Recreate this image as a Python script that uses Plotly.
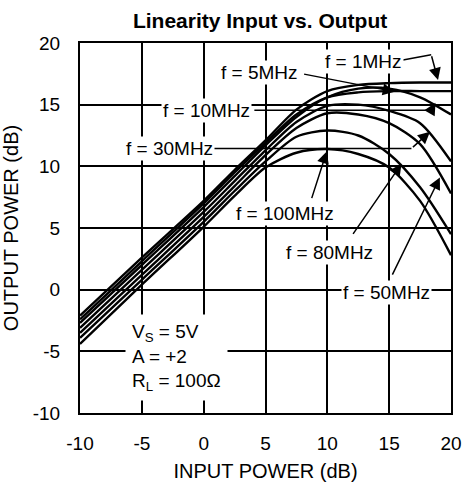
import plotly.graph_objects as go

# input power (dB) sample points
input_db = [-10, -5, 0, 2.5, 5, 7.5, 10, 12.5, 15, 17.5, 20]

# output power (dB) for each frequency
out_1mhz = [-2.1, 2.6, 7.2, 9.7, 12.1, 14.6, 16.1, 16.6, 16.75, 16.8, 16.8]
out_5mhz = [-2.4, 2.3, 7.0, 9.5, 11.9, 14.2, 15.6, 16.0, 16.1, 16.1, 16.1]
out_10mhz = [-2.7, 2.0, 6.7, 9.2, 11.7, 14.0, 15.6, 16.3, 16.3, 15.6, 14.2]
out_30mhz = [-3.1, 1.6, 6.3, 8.8, 11.3, 13.6, 14.9, 15.0, 14.5, 13.5, 10.4]
out_50mhz = [-3.5, 1.2, 5.9, 8.4, 10.9, 13.1, 14.3, 14.2, 13.5, 11.8, 7.8]
out_80mhz = [-3.9, 0.8, 5.5, 8.0, 10.4, 12.4, 12.9, 12.5, 11.0, 8.3, 4.5]
out_100mhz = [-4.4, 0.4, 5.1, 7.6, 9.9, 11.1, 11.4, 11.0, 9.9, 7.2, 2.8]

series = [out_1mhz, out_5mhz, out_10mhz, out_30mhz, out_50mhz, out_80mhz, out_100mhz]
names = ['1MHz', '5MHz', '10MHz', '30MHz', '50MHz', '80MHz', '100MHz']

tick_vals = [-10, -5, 0, 5, 10, 15, 20]
tick_text = [str(v) for v in tick_vals]

FONT = 'Arial, Liberation Sans, sans-serif'

fig = go.Figure()
for name, vals in zip(names, series):
    fig.add_trace(go.Scatter(
        x=input_db, y=vals, mode='lines', name=name,
        line=dict(color='black', width=2.4, shape='spline', smoothing=0.8),
        showlegend=False,
    ))

# frequency labels: text, text centre, arrow tail, arrow tip, optional leader line
labels = [
    ('f = 1MHz', 12.9, 18.5, (18.4, 19.05), (18.95, 17.0), [(16.0, 18.6), (18.4, 19.05)]),
    ('f = 5MHz', 4.5, 17.6, (8.0, 17.5), (15.45, 16.05), None),
    ('f = 10MHz', 0.2, 14.55, (18.4, 14.55), (18.75, 15.15), [(4.1, 14.55), (18.4, 14.55)]),
    ('f = 30MHz', -2.8, 11.45, (16.8, 11.45), (18.3, 12.8), [(0.8, 11.45), (16.8, 11.45)]),
    ('f = 100MHz', 6.6, 6.2, (8.7, 7.3), (9.95, 11.2), None),
    ('f = 80MHz', 10.2, 3.0, (12.0, 4.4), (16.0, 10.2), None),
    ('f = 50MHz', 14.8, -0.25, (15.2, 1.1), (19.1, 9.1), None),
]

annotations = []
shapes = []
for text, tx, ty, tail, tip, leader in labels:
    if leader:
        shapes.append(dict(type='line', xref='x', yref='y',
                           x0=leader[0][0], y0=leader[0][1],
                           x1=leader[1][0], y1=leader[1][1],
                           line=dict(color='black', width=1.5)))
    annotations.append(dict(
        x=tip[0], y=tip[1], ax=tail[0], ay=tail[1],
        xref='x', yref='y', axref='x', ayref='y',
        text='', showarrow=True, arrowhead=2, arrowsize=1.6,
        arrowwidth=1.5, arrowcolor='black',
    ))
    annotations.append(dict(
        x=tx, y=ty, xref='x', yref='y', text=text, showarrow=False,
        font=dict(family=FONT, size=19, color='black'),
        bgcolor='white', borderpad=1,
    ))

annotations.append(dict(
    x=-6.4, y=-5.5, xref='x', yref='y', xanchor='left', yanchor='middle',
    text='V<sub>S</sub> = 5V<br>A = +2<br>R<sub>L</sub> = 100Ω',
    align='left', showarrow=False, bgcolor='white', borderpad=6,
    font=dict(family=FONT, size=19, color='black'),
))

fig.update_layout(
    template='plotly_white',
    width=462,
    height=482,
    margin=dict(l=80, r=11, t=43, b=69),
    paper_bgcolor='white',
    plot_bgcolor='white',
    font=dict(family=FONT, size=18, color='black'),
    title=dict(
        text='<b>Linearity Input vs. Output</b>',
        x=0.563, xanchor='center', y=0.958, yref='container', yanchor='middle',
        font=dict(family=FONT, size=21, color='black'),
    ),
    shapes=shapes,
    annotations=annotations,
)
fig.update_xaxes(
    range=[-10, 20], tickvals=tick_vals, ticktext=tick_text, showgrid=True,
    gridcolor='black', gridwidth=1.5, showline=True, linecolor='black',
    linewidth=2, mirror=True, zeroline=False, ticks='', ticklabelstandoff=12,
    automargin=False, tickfont=dict(size=19),
    title=dict(text='INPUT POWER (dB)', standoff=11, font=dict(size=20)),
)
fig.update_yaxes(
    range=[-10, 20], tickvals=tick_vals, ticktext=tick_text, showgrid=True,
    gridcolor='black', gridwidth=1.5, showline=True, linecolor='black',
    linewidth=2, mirror=True, zeroline=False, ticks='', ticklabelstandoff=14,
    automargin=False, tickfont=dict(size=19),
    title=dict(text='OUTPUT POWER (dB)', standoff=11, font=dict(size=20)),
)

fig.write_html('out.html', config={'displayModeBar': False},
               post_script="document.body.style.margin='0';")
